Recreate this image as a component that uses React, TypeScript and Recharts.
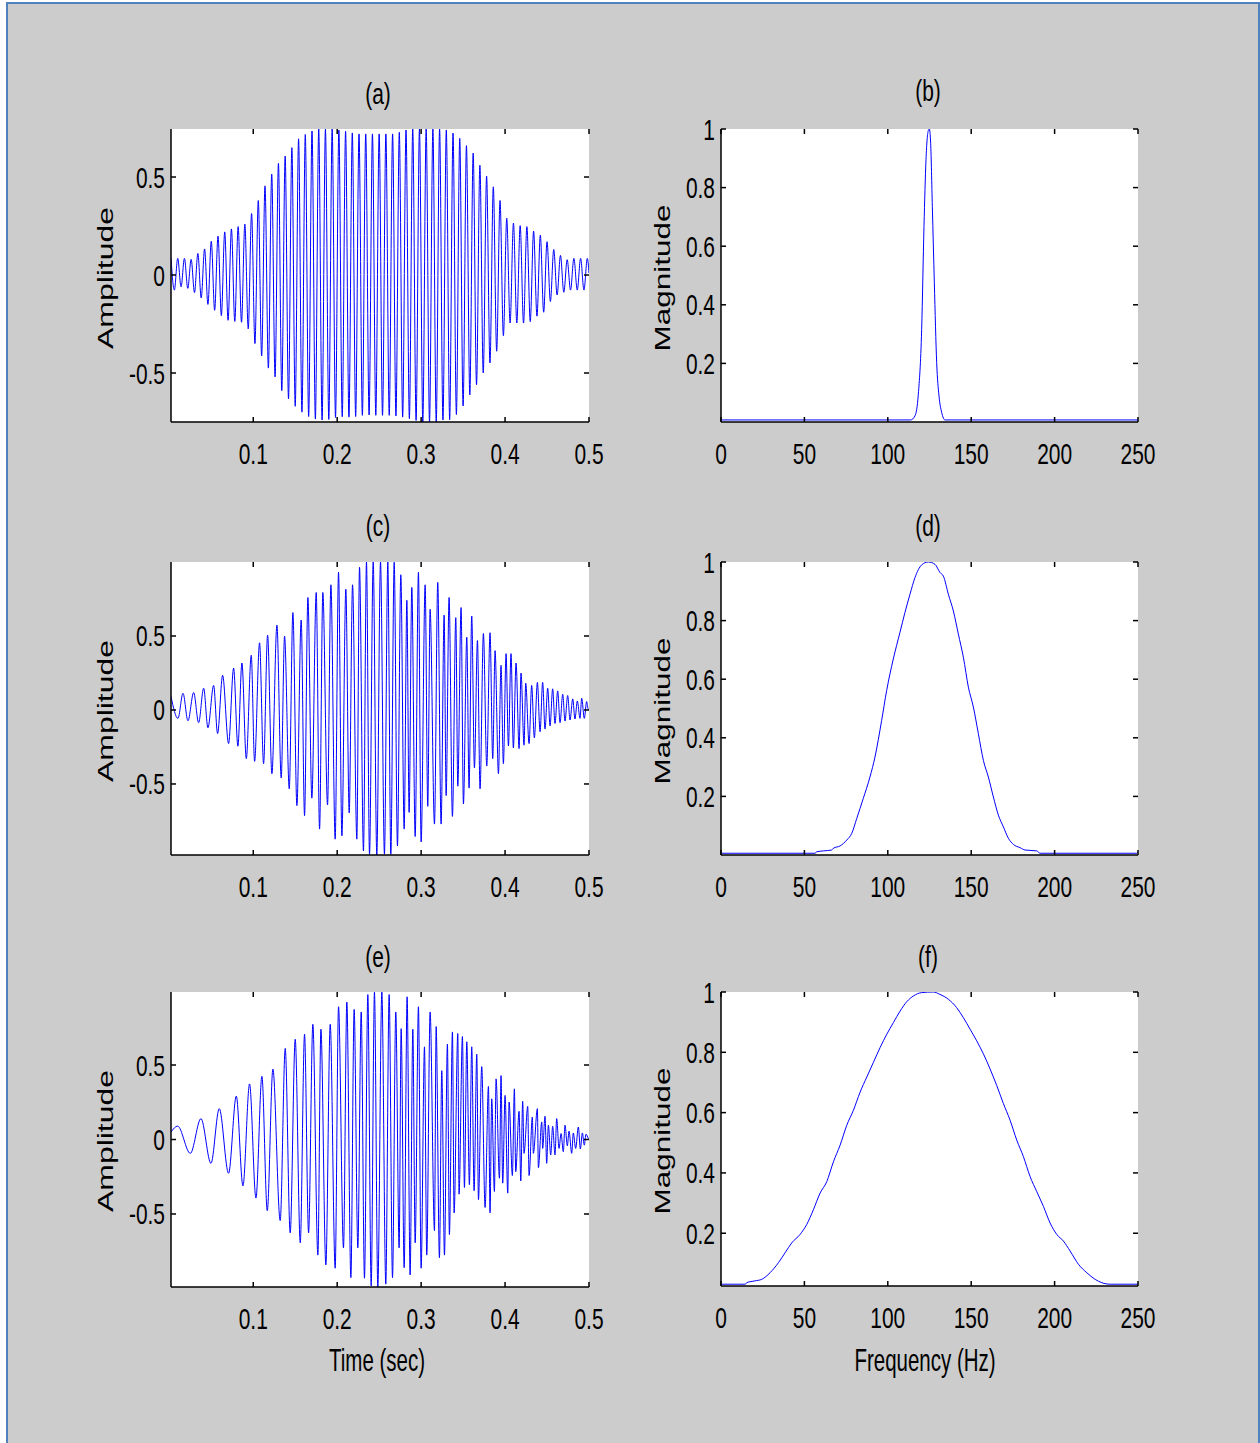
import React from 'react';
import { LineChart, Line, XAxis, YAxis } from 'recharts';

// ---- tick labels ----
const TIME_TICKS = [0.1, 0.2, 0.3, 0.4, 0.5];
const FREQ_TICKS = [0, 50, 100, 150, 200, 250];
const AMP_TICKS = [-0.5, 0, 0.5];
const MAG_TICKS = [0.2, 0.4, 0.6, 0.8, 1];

// ---- (a) constant-frequency burst, extrema ----
const A_TIME = [0.002,0.006,0.010,0.014,0.018,0.022,0.026,0.030,0.034,0.038,0.042,0.046,0.050,0.054,0.058,0.062,0.066,0.070,0.074,0.078,0.082,0.086,0.090,0.094,0.098,0.102,0.106,0.110,0.114,0.118,0.122,0.126,0.130,0.134,0.138,0.142,0.146,0.150,0.154,0.158,0.162,0.166,0.170,0.174,0.178,0.182,0.186,0.190,0.194,0.198,0.202,0.206,0.210,0.214,0.218,0.222,0.226,0.230,0.234,0.238,0.242,0.246,0.250,0.254,0.258,0.262,0.266,0.270,0.274,0.278,0.282,0.286,0.290,0.294,0.298,0.302,0.306,0.310,0.314,0.318,0.322,0.326,0.330,0.334,0.338,0.342,0.346,0.350,0.354,0.358,0.362,0.366,0.370,0.374,0.378,0.382,0.386,0.390,0.394,0.398,0.402,0.406,0.410,0.414,0.418,0.422,0.426,0.430,0.434,0.438,0.442,0.446,0.450,0.454,0.458,0.462,0.466,0.470,0.474,0.478,0.482,0.486,0.490,0.494,0.498,0.500];
const A_AMP = [
  0.085,-0.077,0.085,-0.06,0.085,-0.068,0.08,-0.09,0.11,-0.117,
  0.133,-0.15,0.172,-0.18,0.198,-0.207,0.22,-0.231,0.235,-0.237,
  0.247,-0.241,0.26,-0.275,0.314,-0.35,0.38,-0.413,0.455,-0.475,
  0.515,-0.52,0.57,-0.59,0.607,-0.632,0.65,-0.67,0.695,-0.7,
  0.717,-0.722,0.735,-0.735,0.745,-0.74,0.745,-0.737,0.745,-0.727,
  0.74,-0.723,0.733,-0.725,0.725,-0.722,0.72,-0.716,0.72,-0.714,
  0.72,-0.716,0.72,-0.716,0.72,-0.716,0.72,-0.719,0.728,-0.725,
  0.74,-0.733,0.745,-0.742,0.745,-0.75,0.745,-0.75,0.745,-0.75,
  0.745,-0.74,0.74,-0.738,0.724,-0.712,0.697,-0.668,0.66,-0.612,
  0.622,-0.56,0.56,-0.5,0.505,-0.449,0.45,-0.389,0.38,-0.31,
  0.29,-0.245,0.265,-0.245,0.252,-0.245,0.247,-0.238,0.224,-0.21,
  0.203,-0.19,0.17,-0.135,0.13,-0.102,0.1,-0.088,0.078,-0.077,
  0.085,-0.077,0.085,-0.077,0.085,0.01,
];

// ---- (c) chirp ----
const C_TIME = [
  0.002,0.0103,0.0163,0.0222,0.029,0.0349,0.0409,0.046,0.0528,0.0575,
  0.0635,0.0706,0.0766,0.0817,0.0865,0.0917,0.0976,0.1016,0.1075,0.1123,
  0.1171,0.1222,0.1282,0.1333,0.1373,0.1429,0.1472,0.152,0.1571,0.1611,
  0.1651,0.1698,0.175,0.179,0.1829,0.1885,0.1925,0.1976,0.2016,0.2056,
  0.2103,0.2143,0.2183,0.2234,0.2266,0.2313,0.2349,0.2385,0.2429,0.2472,
  0.2516,
  0.2563,0.2603,0.2639,0.2679,0.2718,0.2758,0.2798,0.283,0.2857,0.2889,
  0.2929,0.2968,0.3,0.3048,0.3079,0.3107,0.3159,0.3198,0.3238,0.3274,
  0.3298,0.3333,0.3373,0.3413,0.3437,0.3476,0.3504,0.3544,0.3571,0.3603,
  0.3635,0.3671,0.3702,0.3742,0.3782,0.3821,0.3853,0.3881,0.3921,0.3952,
  0.398,0.4012,0.404,0.4071,0.4099,0.4131,0.4167,0.419,0.4226,0.4246,
  0.4286,0.4317,0.4349,0.4385,0.4417,0.4448,0.4476,0.4508,0.4536,0.4567,
  0.4595,0.4627,0.4655,0.4687,0.4714,0.4746,0.4774,0.4806,0.4833,0.4861,
  0.4893,0.4913,0.4944,0.4972,0.4988,0.5,
];
const C_AMP = [
  0.091,-0.057,0.113,-0.073,0.118,-0.086,0.147,-0.12,0.166,-0.159,
  0.234,-0.227,0.283,-0.245,0.317,-0.329,0.37,-0.347,0.454,-0.363,
  0.506,-0.431,0.574,-0.46,0.499,-0.533,0.658,-0.646,0.608,-0.714,
  0.76,-0.596,0.794,-0.805,0.794,-0.642,0.846,-0.873,0.93,-0.85,
  0.816,-0.696,0.846,-0.873,0.964,-0.952,1.0,-0.975,1.0,-0.98,
  1.0,
  -0.975,1.0,-0.975,0.998,-0.918,0.914,-0.805,0.741,-0.692,0.828,
  -0.855,0.93,-0.891,0.846,-0.651,0.68,-0.771,0.862,-0.771,0.642,
  -0.578,0.76,-0.719,0.624,-0.515,0.692,-0.635,0.492,-0.528,0.635,
  -0.392,0.469,-0.533,0.517,-0.379,0.522,-0.329,0.401,-0.431,0.302,
  -0.363,0.381,-0.243,0.381,-0.256,0.317,-0.261,0.249,-0.238,0.181,
  -0.227,0.166,-0.188,0.186,-0.147,0.186,-0.129,0.147,-0.107,0.143,
  -0.091,0.129,-0.086,0.107,-0.075,0.098,-0.068,0.075,-0.061,0.061,
  -0.057,0.079,-0.057,0.057,0.01,0.0,
];

// ---- (e) wide chirp ----
const E_TIME = [
  0.002,0.0099,0.025,0.0377,0.0496,0.0595,0.0706,0.0798,0.0877,0.0956,
  0.1032,0.1103,0.1167,0.1234,0.1321,0.1381,0.144,0.15,0.156,0.1611,
  0.1659,0.171,0.177,0.1806,0.1865,0.1917,0.1976,0.2016,0.2075,0.2115,
  0.2163,0.2202,0.2246,0.2286,0.2325,0.2365,0.2405,0.2444,0.2484,0.2532,
  0.2579,0.2619,0.2659,0.2698,0.2738,0.2762,0.2798,0.2833,0.2869,0.2901,
  0.2929,0.2968,0.3,0.304,0.3067,0.3107,0.3159,0.3179,0.3218,0.3246,
  0.3278,0.3313,0.3337,0.3373,0.3393,0.3437,0.3452,0.3492,0.3516,0.3544,
  0.3575,0.3603,0.3631,0.3663,0.3683,0.3722,0.3762,0.3802,0.3821,0.3841,
  0.3873,0.3893,0.3933,0.3952,0.3972,0.4,0.4032,0.4048,0.4087,0.4111,
  0.4127,0.4167,0.4187,0.421,0.4226,0.427,0.4286,0.4325,0.4337,0.4385,
  0.4397,0.4437,0.4448,0.4476,0.4496,0.4516,0.4544,0.4567,0.4595,0.4615,
  0.4643,0.4667,0.4694,0.4714,0.4742,0.4762,0.4794,0.4813,0.4841,0.4873,
  0.4897,0.4921,0.4944,0.4964,0.4992,0.5,
];
const E_AMP = [
  0.05,0.09,-0.093,0.14,-0.16,0.207,-0.227,0.291,-0.311,0.373,
  -0.393,0.424,-0.478,0.473,-0.544,0.611,-0.627,0.673,-0.693,0.707,
  -0.627,0.773,-0.776,0.74,-0.842,0.773,-0.864,0.891,-0.727,0.922,
  -0.927,0.873,-0.727,0.856,-0.931,0.973,-0.982,0.989,-0.99,0.99,
  -0.971,0.973,-0.927,0.856,-0.727,0.744,-0.86,0.958,-0.909,0.74,
  -0.693,0.891,-0.864,0.622,-0.776,0.856,-0.611,0.758,-0.793,0.462,
  -0.776,0.64,-0.638,0.722,-0.493,0.711,-0.367,0.691,-0.322,0.656,
  -0.304,0.622,-0.344,0.573,-0.404,0.489,-0.456,0.356,-0.493,0.273,
  -0.349,0.407,-0.26,0.429,-0.293,0.296,-0.36,0.251,-0.242,0.34,
  -0.216,0.189,-0.278,0.256,-0.093,0.222,-0.242,0.151,-0.093,0.207,
  -0.189,0.118,-0.06,0.156,-0.16,0.096,-0.104,0.089,-0.104,0.14,
  -0.06,0.04,-0.082,0.096,-0.042,0.056,-0.093,0.044,-0.06,0.084,
  -0.064,0.044,-0.038,0.036,0.007,0.0,
];

// ---- spectra ----
const B_FREQ = [0, 113.7, 116.3, 118.3, 120.3, 121.7, 122.9, 124.3, 124.9, 125.7, 126.7, 127.9, 129.3, 130.7, 132.3, 134.3, 250];
const B_MAG = [0.007, 0.007, 0.021, 0.095, 0.316, 0.668, 0.895, 0.995, 1.0, 0.951, 0.736, 0.475, 0.203, 0.089, 0.033, 0.007, 0.007];

const D_FREQ = [0, 56.4, 57.4, 61.4, 66.4, 67.4, 71.4, 75.4, 78.4, 81.4, 85.3, 89.3, 92.3, 96.3, 99.3, 103.3, 107.3, 110.3, 113.3, 116.3, 120.3, 124.3, 128.3, 131.3, 133.3, 136.3, 139.3, 142.3, 145.3, 148.3, 151.3, 154.3, 157.3, 160.3, 163.3, 166.3, 169.3, 172.3, 175.3, 179.3, 182.3, 189.3, 191.3, 249.3, 250];
const D_MAG = [0.006, 0.006, 0.011, 0.014, 0.017, 0.023, 0.031, 0.051, 0.074, 0.125, 0.193, 0.266, 0.334, 0.459, 0.561, 0.669, 0.76, 0.828, 0.89, 0.947, 0.99, 1.0, 0.992, 0.964, 0.952, 0.89, 0.833, 0.754, 0.675, 0.573, 0.505, 0.414, 0.323, 0.266, 0.198, 0.136, 0.096, 0.057, 0.036, 0.025, 0.017, 0.014, 0.006, 0.006, 0.011];

const F_FREQ = [0, 14.6, 15.4, 20.4, 24.4, 29.4, 34.4, 38.4, 42.4, 47.4, 51.4, 55.4, 59.4, 63.4, 67.4, 71.4, 75.4, 79.4, 83.4, 87.4, 91.4, 95.4, 99.4, 103.4, 107.4, 111.4, 115.4, 120.3, 127.3, 131.3, 136.3, 141.3, 145.3, 149.3, 153.3, 157.3, 161.3, 165.3, 169.3, 173.3, 177.3, 181.3, 185.3, 189.3, 193.3, 197.3, 201.3, 205.3, 209.3, 214.3, 219.3, 224.3, 228.3, 233.3, 250];
const F_MAG = [0.031, 0.031, 0.036, 0.042, 0.047, 0.069, 0.102, 0.135, 0.168, 0.196, 0.229, 0.278, 0.333, 0.371, 0.437, 0.492, 0.558, 0.608, 0.668, 0.718, 0.767, 0.816, 0.86, 0.899, 0.937, 0.968, 0.987, 0.998, 1.0, 0.992, 0.976, 0.948, 0.915, 0.877, 0.838, 0.795, 0.745, 0.69, 0.63, 0.575, 0.509, 0.454, 0.388, 0.338, 0.289, 0.234, 0.196, 0.174, 0.141, 0.097, 0.069, 0.047, 0.036, 0.031, 0.031];

const FONT = '"Liberation Sans", Arial, Helvetica, sans-serif';
const TICK_FS = 29.5;
const TICK_SX = 0.71;
const YAX_W = 80;
const XAX_H = 50;
const PT = 24; // room above the plot for the top tick label
const PR = 36; // room right of the plot for the last x label

const zip = (xs: number[], ys: number[]) => xs.map((x, i) => ({ x, y: ys[i] }));

type PanelProps = {
  left: number;
  top: number;
  w: number;
  h: number;
  xs: number[];
  ys: number[];
  xDomain: [number, number];
  xTicks: number[];
  yDomain: [number, number];
  yTicks: number[];
};

function Panel({ left, top, w, h, xs, ys, xDomain, xTicks, yDomain, yTicks }: PanelProps) {
  const data = zip(xs, ys);
  const pl = YAX_W;
  const pr = YAX_W + w;
  const pt = PT;
  const pb = PT + h;

  const xTick = (p: any) => (
    <g>
      <line x1={p.x} x2={p.x} y1={pb} y2={pb - 5} stroke="#000" strokeWidth={1.5} />
      <line x1={p.x} x2={p.x} y1={pt} y2={pt + 5} stroke="#000" strokeWidth={1.5} />
      <text
        transform={`translate(${p.x} ${pb + 41.5}) scale(${TICK_SX} 1)`}
        textAnchor="middle"
        fontSize={TICK_FS}
        fontFamily={FONT}
        fill="#000"
      >
        {String(p.payload.value)}
      </text>
    </g>
  );

  const yTick = (p: any) => (
    <g>
      <line x1={pl} x2={pl + 5} y1={p.y} y2={p.y} stroke="#000" strokeWidth={1.5} />
      <line x1={pr} x2={pr - 5} y1={p.y} y2={p.y} stroke="#000" strokeWidth={1.5} />
      <text
        transform={`translate(${pl - 6} ${p.y + 10.5}) scale(${TICK_SX} 1)`}
        textAnchor="end"
        fontSize={TICK_FS}
        fontFamily={FONT}
        fill="#000"
      >
        {String(p.payload.value)}
      </text>
    </g>
  );

  const frame = { stroke: '#000', strokeWidth: 1.5 };

  return (
    <>
      <div style={{ position: 'absolute', left, top, width: w, height: h, background: '#fff' }} />
      <div style={{ position: 'absolute', left: left - YAX_W, top: top - PT }}>
        <LineChart
          width={w + YAX_W + PR}
          height={h + PT + XAX_H}
          data={data}
          margin={{ top: PT, right: PR, left: 0, bottom: 0 }}
        >
          <XAxis
            type="number"
            dataKey="x"
            domain={xDomain}
            ticks={xTicks}
            interval={0}
            height={XAX_H}
            allowDataOverflow
            axisLine={frame}
            tickLine={false}
            tick={xTick}
          />
          <XAxis
            xAxisId="top"
            orientation="top"
            type="number"
            dataKey="x"
            domain={xDomain}
            height={0}
            allowDataOverflow
            axisLine={frame}
            tickLine={false}
            tick={false}
          />
          <YAxis
            type="number"
            domain={yDomain}
            ticks={yTicks}
            interval={0}
            width={YAX_W}
            allowDataOverflow
            axisLine={frame}
            tickLine={false}
            tick={yTick}
          />
          <YAxis
            yAxisId="right"
            orientation="right"
            type="number"
            domain={yDomain}
            width={0}
            allowDataOverflow
            axisLine={frame}
            tickLine={false}
            tick={false}
          />
          <Line
            type="monotone"
            dataKey="y"
            stroke="#0000ff"
            strokeWidth={1}
            dot={false}
            activeDot={false}
            isAnimationActive={false}
          />
        </LineChart>
      </div>
    </>
  );
}

function Txt({ x, y, text, fs, sx, rotate }: { x: number; y: number; text: string; fs: number; sx: number; rotate?: boolean }) {
  const tf = rotate
    ? `translate(${x} ${y}) rotate(-90) scale(${sx} 1)`
    : `translate(${x} ${y}) scale(${sx} 1)`;
  return (
    <text transform={tf} textAnchor="middle" fontSize={fs} fontFamily={FONT} fill="#000">
      {text}
    </text>
  );
}

export default function App() {
  const L = 171;
  const R = 721;
  const PW = 418;
  const PH = 293;
  const rows = [129, 562, 992];
  const rowTitleY = [104, 536, 967];
  const rowMidY = [278, 711, 1141];

  return (
    <div style={{ position: 'absolute', left: 0, top: 0, width: 1260, height: 1443, background: '#fff', overflow: 'hidden' }}>
      <div
        style={{
          position: 'absolute',
          left: 6,
          top: 2,
          width: 1250,
          height: 1460,
          background: '#cccccc',
          borderLeft: '2px solid #4f81bd',
          borderTop: '2px solid #4f81bd',
          borderRight: '2px solid #4f81bd',
        }}
      />
      <Panel left={L} top={rows[0]} w={PW} h={PH} xs={A_TIME} ys={A_AMP} xDomain={[0.002, 0.5]} xTicks={TIME_TICKS} yDomain={[-0.75, 0.745]} yTicks={AMP_TICKS} />
      <Panel left={R} top={rows[0]} w={417} h={PH} xs={B_FREQ} ys={B_MAG} xDomain={[0, 250]} xTicks={FREQ_TICKS} yDomain={[0, 1]} yTicks={MAG_TICKS} />
      <Panel left={L} top={rows[1]} w={PW} h={PH} xs={C_TIME} ys={C_AMP} xDomain={[0.002, 0.5]} xTicks={TIME_TICKS} yDomain={[-0.98, 1]} yTicks={AMP_TICKS} />
      <Panel left={R} top={rows[1]} w={417} h={PH} xs={D_FREQ} ys={D_MAG} xDomain={[0, 250]} xTicks={FREQ_TICKS} yDomain={[0, 1]} yTicks={MAG_TICKS} />
      <Panel left={L} top={rows[2]} w={PW} h={295} xs={E_TIME} ys={E_AMP} xDomain={[0.002, 0.5]} xTicks={TIME_TICKS} yDomain={[-0.99, 0.99]} yTicks={AMP_TICKS} />
      <Panel left={R} top={rows[2]} w={417} h={294} xs={F_FREQ} ys={F_MAG} xDomain={[0, 250]} xTicks={FREQ_TICKS} yDomain={[0.025, 1]} yTicks={MAG_TICKS} />

      <svg width={1260} height={1443} style={{ position: 'absolute', left: 0, top: 0, pointerEvents: 'none' }}>
        <Txt x={378} y={rowTitleY[0]} text="(a)" fs={29.5} sx={0.71} />
        <Txt x={928} y={rowTitleY[0] - 3} text="(b)" fs={29.5} sx={0.71} />
        <Txt x={378} y={rowTitleY[1]} text="(c)" fs={29.5} sx={0.71} />
        <Txt x={928} y={rowTitleY[1]} text="(d)" fs={29.5} sx={0.71} />
        <Txt x={378} y={rowTitleY[2]} text="(e)" fs={29.5} sx={0.71} />
        <Txt x={928} y={rowTitleY[2]} text="(f)" fs={29.5} sx={0.71} />
        {rowMidY.map((cy) => (
          <React.Fragment key={cy}>
            <Txt x={113} y={cy} text="Amplitude" fs={22} sx={1.45} rotate />
            <Txt x={670} y={cy} text="Magnitude" fs={22} sx={1.43} rotate />
          </React.Fragment>
        ))}
        <Txt x={377} y={1371} text="Time (sec)" fs={32} sx={0.64} />
        <Txt x={925} y={1371} text="Frequency (Hz)" fs={32} sx={0.64} />
      </svg>
    </div>
  );
}
